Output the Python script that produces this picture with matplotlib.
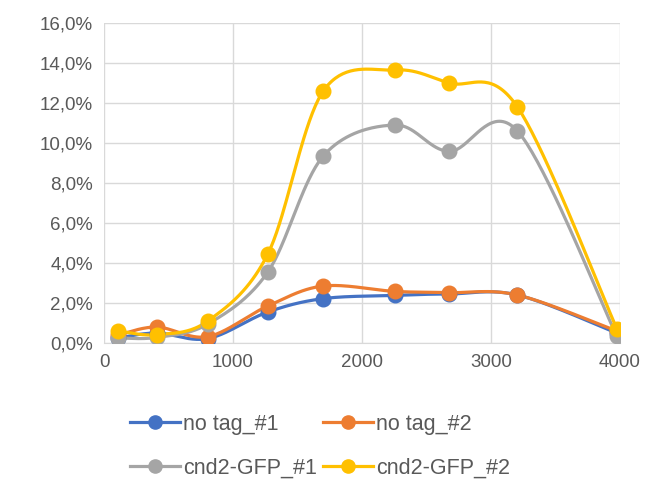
import numpy as np
import matplotlib
matplotlib.use('Agg')
import matplotlib.pyplot as plt
from matplotlib.ticker import FuncFormatter

plt.rcParams['font.family'] = ['Liberation Sans', 'DejaVu Sans']

x = [110, 410, 805, 1270, 1700, 2255, 2675, 3205, 3975]
no_tag_1 = [0.25, 0.50, 0.22, 1.55, 2.22, 2.38, 2.45, 2.40, 0.50]
no_tag_2 = [0.40, 0.80, 0.32, 1.85, 2.85, 2.58, 2.52, 2.40, 0.60]
cnd2_gfp_1 = [0.25, 0.28, 0.95, 3.55, 9.35, 10.90, 9.58, 10.60, 0.35]
cnd2_gfp_2 = [0.60, 0.42, 1.10, 4.45, 12.60, 13.65, 13.00, 11.80, 0.72]

labels = ['no tag_#1', 'no tag_#2', 'cnd2-GFP_#1', 'cnd2-GFP_#2']
colors = ['#4472C4', '#ED7D31', '#A5A5A5', '#FFC000']


def smooth(xs, ys, n=40):
    # excel style catmull-rom curve through the points
    p = np.column_stack([xs, ys]).astype(float)
    p = np.vstack([p[0], p, p[-1]])
    out = []
    t = np.linspace(0, 1, n)[:, None]
    for i in range(1, len(p) - 2):
        p0, p1, p2, p3 = p[i - 1], p[i], p[i + 1], p[i + 2]
        c1 = p1 + (p2 - p0) / 6
        c2 = p2 - (p3 - p1) / 6
        seg = ((1 - t) ** 3) * p1 + 3 * ((1 - t) ** 2) * t * c1 + 3 * (1 - t) * t ** 2 * c2 + t ** 3 * p2
        out.append(seg)
    out = np.vstack(out)
    return out[:, 0], out[:, 1]


fig = plt.figure(figsize=(6.64, 4.82), dpi=100)
ax = fig.add_axes([104 / 664, 1 - 343 / 482, 516 / 664, 320 / 482])

handles = []
for ys, lab, c in zip([no_tag_1, no_tag_2, cnd2_gfp_1, cnd2_gfp_2], labels, colors):
    sx, sy = smooth(x, ys)
    ax.plot(sx, sy, color=c, lw=2.3, solid_capstyle='round', zorder=3)
    ax.plot(x, ys, 'o', color=c, ms=10.5, zorder=4)
    h, = ax.plot([], [], '-o', color=c, lw=2.3, ms=9.5, label=lab)
    handles.append(h)

ax.set_xlim(0, 4000)
ax.set_ylim(0, 16)
ax.set_xticks([0, 1000, 2000, 3000, 4000])
ax.set_yticks(np.arange(0, 17, 2))
ax.yaxis.set_major_formatter(FuncFormatter(lambda v, p: ('%.1f' % v).replace('.', ',') + '%'))
ax.grid(True, color='#D9D9D9', lw=1)
ax.set_axisbelow(True)
for s in ['top', 'right', 'left']:
    ax.spines[s].set_visible(False)
ax.spines['bottom'].set_color('#D9D9D9')
ax.tick_params(length=0, labelsize=13.5, colors='#595959', pad=8)

# legend fills by column, so reorder to get rows like excel
order = [0, 2, 1, 3]
leg = fig.legend([handles[i] for i in order], [labels[i] for i in order],
                 loc='center', ncol=2, bbox_to_anchor=(0.482, 0.074), frameon=False,
                 fontsize=15.5, handlelength=2.3, columnspacing=0.3, labelspacing=1.05,
                 handletextpad=0.15)
for t in leg.get_texts():
    t.set_color('#595959')

fig.savefig('out.png', dpi=100)
